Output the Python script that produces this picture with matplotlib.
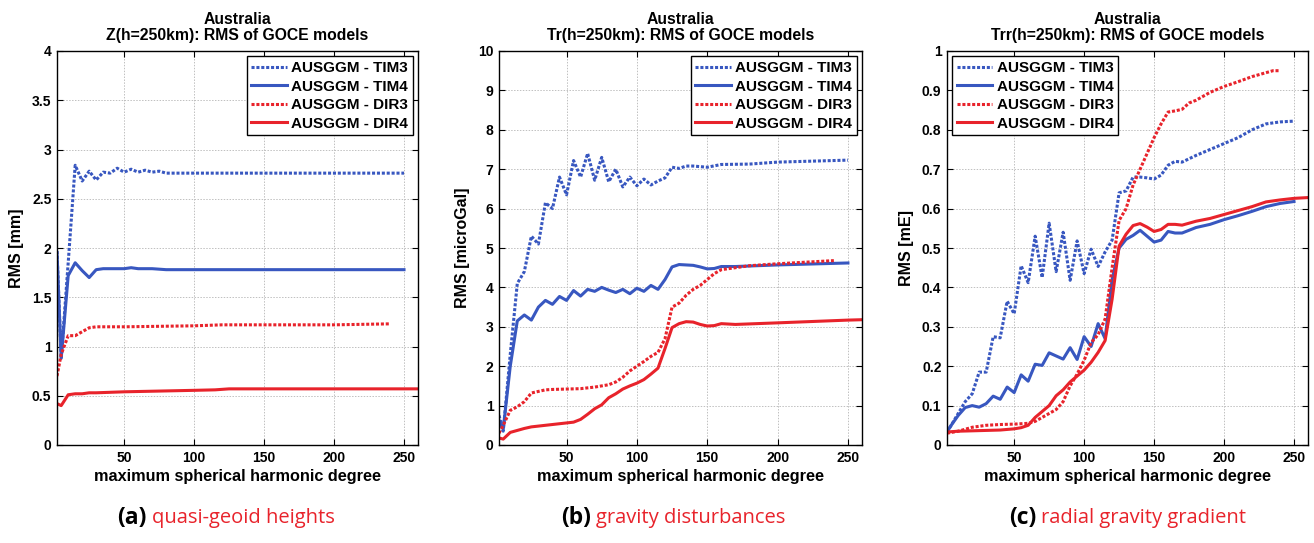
import matplotlib
matplotlib.use("Agg")
import matplotlib.pyplot as plt
from matplotlib.ticker import FixedLocator

# ---------------- data ----------------
labels = ["AUSGGM - TIM3", "AUSGGM - TIM4", "AUSGGM - DIR3", "AUSGGM - DIR4"]
xticks = [50, 100, 150, 200, 250]

# (a) quasi-geoid heights [mm]
a_tim3_x = [2, 5, 10, 15, 20, 25, 30, 35, 40, 45, 50, 55, 60, 65, 70, 75, 80, 90, 100, 150, 200, 250]
a_tim3_y = [1.97, 0.88, 1.85, 2.84, 2.68, 2.78, 2.69, 2.77, 2.76, 2.81, 2.77, 2.80, 2.77, 2.79, 2.77, 2.78, 2.76, 2.76, 2.76, 2.76, 2.76, 2.76]
a_tim4_x = [2, 5, 10, 15, 20, 25, 30, 35, 40, 50, 55, 60, 70, 80, 100, 150, 200, 250]
a_tim4_y = [1.95, 0.88, 1.72, 1.85, 1.77, 1.70, 1.78, 1.79, 1.79, 1.79, 1.80, 1.79, 1.79, 1.78, 1.78, 1.78, 1.78, 1.78]
a_dir3_x = [2, 5, 10, 15, 20, 25, 30, 40, 50, 100, 120, 150, 200, 240]
a_dir3_y = [0.70, 0.92, 1.11, 1.11, 1.15, 1.19, 1.20, 1.20, 1.20, 1.21, 1.22, 1.22, 1.22, 1.23]
a_dir4_x = [2, 5, 10, 15, 20, 25, 30, 50, 100, 115, 125, 150, 200, 260]
a_dir4_y = [0.42, 0.40, 0.51, 0.52, 0.52, 0.53, 0.53, 0.54, 0.555, 0.56, 0.57, 0.57, 0.57, 0.57]

# (b) gravity disturbances [microGal]
b_tim3_x = [2, 5, 10, 15, 20, 25, 30, 35, 40, 45, 50, 55, 60, 65, 70, 75, 80, 85, 90, 95, 100, 105, 110, 115,
            120, 125, 130, 135, 140, 150, 160, 180, 200, 250]
b_tim3_y = [0.75, 0.35, 2.3, 4.1, 4.4, 5.3, 5.1, 6.15, 6.0, 6.8, 6.35, 7.22, 6.8, 7.4, 6.72, 7.3, 6.68, 7.0, 6.55,
            6.8, 6.58, 6.75, 6.6, 6.7, 6.78, 7.05, 7.02, 7.08, 7.08, 7.05, 7.12, 7.13, 7.18, 7.23]
b_tim4_x = [2, 5, 10, 15, 20, 25, 30, 35, 40, 45, 50, 55, 60, 65, 70, 75, 80, 85, 90, 95, 100, 105, 110, 115,
            120, 125, 130, 140, 145, 150, 155, 160, 170, 200, 250]
b_tim4_y = [0.63, 0.4, 2.0, 3.15, 3.3, 3.17, 3.5, 3.67, 3.57, 3.77, 3.67, 3.92, 3.78, 3.95, 3.9, 4.0, 3.93, 3.87,
            3.95, 3.84, 3.98, 3.9, 4.05, 3.95, 4.2, 4.52, 4.58, 4.56, 4.52, 4.47, 4.48, 4.53, 4.53, 4.57, 4.62]
b_dir3_x = [2, 5, 10, 15, 20, 25, 30, 35, 40, 50, 60, 70, 80, 85, 90, 95, 100, 105, 110, 115, 120, 125, 130,
            135, 140, 145, 150, 155, 160, 170, 180, 200, 240]
b_dir3_y = [0.3, 0.5, 0.88, 0.97, 1.1, 1.32, 1.36, 1.40, 1.41, 1.42, 1.43, 1.47, 1.53, 1.6, 1.72, 1.88, 2.0,
            2.12, 2.25, 2.35, 2.7, 3.5, 3.6, 3.8, 3.95, 4.05, 4.2, 4.35, 4.45, 4.5, 4.55, 4.6, 4.68]
b_dir4_x = [2, 5, 10, 15, 20, 25, 30, 40, 45, 50, 55, 60, 65, 70, 75, 80, 85, 90, 95, 100, 105, 110, 115, 120,
            125, 130, 135, 140, 145, 150, 155, 160, 170, 200, 250, 260]
b_dir4_y = [0.18, 0.15, 0.32, 0.37, 0.42, 0.46, 0.48, 0.52, 0.54, 0.56, 0.58, 0.65, 0.78, 0.92, 1.02, 1.2, 1.3,
            1.42, 1.5, 1.57, 1.66, 1.8, 1.95, 2.45, 2.98, 3.08, 3.13, 3.12, 3.06, 3.02, 3.03, 3.08, 3.06, 3.1,
            3.17, 3.18]

# (c) radial gravity gradient [mE]
c_tim_x = [2, 5, 10, 15, 20, 25, 30, 35, 40, 45, 50, 55, 60, 65, 70, 75, 80, 85, 90, 95, 100, 105, 110, 115,
           120, 125, 130, 135, 140, 145, 150, 155, 160, 165, 170, 180, 190, 200, 210, 220, 230, 240, 250]
c_tim3_y = [0.033, 0.05, 0.08, 0.11, 0.13, 0.185, 0.185, 0.275, 0.272, 0.365, 0.333, 0.455, 0.412, 0.53, 0.425,
            0.563, 0.44, 0.54, 0.418, 0.518, 0.435, 0.497, 0.453, 0.49, 0.52, 0.64, 0.645, 0.68, 0.68, 0.678,
            0.675, 0.685, 0.71, 0.72, 0.718, 0.735, 0.75, 0.765, 0.78, 0.80, 0.815, 0.82, 0.822]
c_tim4_y = [0.033, 0.05, 0.075, 0.095, 0.1, 0.096, 0.105, 0.124, 0.116, 0.147, 0.133, 0.178, 0.162, 0.205, 0.202,
            0.234, 0.226, 0.218, 0.247, 0.217, 0.275, 0.25, 0.308, 0.27, 0.42, 0.5, 0.522, 0.532, 0.545, 0.53,
            0.515, 0.52, 0.542, 0.538, 0.538, 0.552, 0.56, 0.572, 0.582, 0.593, 0.605, 0.613, 0.618]
c_dir3_x = [2, 10, 20, 30, 40, 50, 55, 60, 65, 70, 75, 80, 85, 90, 95, 100, 105, 110, 115, 120, 125, 130, 135,
            140, 145, 150, 155, 160, 165, 170, 175, 180, 190, 200, 210, 220, 230, 235, 240]
c_dir3_y = [0.03, 0.035, 0.045, 0.05, 0.052, 0.053, 0.054, 0.055, 0.06, 0.07, 0.08, 0.09, 0.11, 0.15, 0.18,
            0.215, 0.26, 0.28, 0.32, 0.45, 0.57, 0.6, 0.66, 0.7, 0.74, 0.78, 0.815, 0.845, 0.848, 0.852, 0.868,
            0.875, 0.895, 0.91, 0.922, 0.935, 0.945, 0.95, 0.95]
c_dir4_x = [2, 10, 20, 30, 40, 50, 55, 60, 65, 70, 75, 80, 85, 90, 95, 100, 105, 110, 115, 120, 125, 130, 135,
            140, 145, 150, 155, 160, 165, 170, 180, 190, 200, 210, 220, 230, 240, 250, 260]
c_dir4_y = [0.033, 0.035, 0.036, 0.037, 0.038, 0.041, 0.044, 0.05, 0.07, 0.085, 0.1, 0.125, 0.14, 0.16, 0.175,
            0.19, 0.21, 0.235, 0.265, 0.37, 0.505, 0.535, 0.557, 0.562, 0.553, 0.542, 0.547, 0.56, 0.56, 0.558,
            0.568, 0.575, 0.585, 0.595, 0.605, 0.617, 0.622, 0.626, 0.628]

panels = [
    dict(title="Australia\nZ(h=250km): RMS of GOCE models", ylabel="RMS [mm]",
         ylim=(0, 4), yticks=[0, 0.5, 1, 1.5, 2, 2.5, 3, 3.5, 4],
         yticklabels=["0", "0.5", "1", "1.5", "2", "2.5", "3", "3.5", "4"],
         series=[(a_tim3_x, a_tim3_y), (a_tim4_x, a_tim4_y), (a_dir3_x, a_dir3_y), (a_dir4_x, a_dir4_y)],
         legloc="upper right", cap_letter="(a)", cap_text="quasi-geoid heights"),
    dict(title="Australia\nTr(h=250km): RMS of GOCE models", ylabel="RMS [microGal]",
         ylim=(0, 10), yticks=list(range(0, 11)),
         yticklabels=[str(v) for v in range(0, 11)],
         series=[(b_tim3_x, b_tim3_y), (b_tim4_x, b_tim4_y), (b_dir3_x, b_dir3_y), (b_dir4_x, b_dir4_y)],
         legloc="upper right", cap_letter="(b)", cap_text="gravity disturbances"),
    dict(title="Australia\nTrr(h=250km): RMS of GOCE models", ylabel="RMS [mE]",
         ylim=(0, 1), yticks=[0, 0.1, 0.2, 0.3, 0.4, 0.5, 0.6, 0.7, 0.8, 0.9, 1],
         yticklabels=["0", "0.1", "0.2", "0.3", "0.4", "0.5", "0.6", "0.7", "0.8", "0.9", "1"],
         series=[(c_tim_x, c_tim3_y), (c_tim_x, c_tim4_y), (c_dir3_x, c_dir3_y), (c_dir4_x, c_dir4_y)],
         legloc="upper left", cap_letter="(c)", cap_text="radial gravity gradient"),
]

# ---------------- style ----------------
BLUE = "#3857c0"
RED = "#e8232b"
styles = [dict(color=BLUE, ls=(0, (1, 0.6))), dict(color=BLUE, ls="-"),
          dict(color=RED, ls=(0, (1, 0.6))), dict(color=RED, ls="-")]
FONT = ["Liberation Sans", "DejaVu Sans"]
CAPFONT = ["Open Sans", "DejaVu Sans"]

plt.rcParams["font.family"] = FONT
plt.rcParams["font.weight"] = "bold"

W, H = 1314, 543
fig = plt.figure(figsize=(W / 100, H / 100), dpi=100)

# axes boxes in pixels: left, right, top, bottom
boxes = [(57, 418, 51, 445), (499, 862, 51, 445), (947, 1308, 51, 445)]
# caption anchor: x where "(x)" ends
cap_x = [147, 591, 1036]

for p, box, cx in zip(panels, boxes, cap_x):
    l, r, t, b = box
    ax = fig.add_axes([l / W, 1 - b / H, (r - l) / W, (b - t) / H])
    for (xs, ys), st, lab in zip(p["series"], styles, labels):
        ax.plot(xs, ys, color=st["color"], linestyle=st["ls"], lw=2.2, label=lab)
    ax.set_xlim(2, 260)
    ax.set_ylim(*p["ylim"])
    ax.xaxis.set_major_locator(FixedLocator(xticks))
    ax.set_xticklabels([str(v) for v in xticks], fontweight="bold", fontsize=10)
    ax.set_yticks(p["yticks"])
    ax.set_yticklabels(p["yticklabels"], fontweight="bold", fontsize=10)
    ax.grid(True, color="#c0c0c0", linestyle=(0, (1.5, 1.5)), lw=0.7)
    ax.tick_params(direction="in", top=True, right=True, length=4, width=0.8,
                   labelsize=10, pad=4)
    for s in ax.spines.values():
        s.set_linewidth(1.0)
        s.set_color("black")
    ax.set_title(p["title"], fontsize=11.3, fontweight="bold", pad=8, linespacing=1.1)
    ax.set_xlabel("maximum spherical harmonic degree", fontsize=11.7, fontweight="bold", labelpad=3)
    ax.set_ylabel(p["ylabel"], fontsize=11.5, fontweight="bold", labelpad=6)
    leg = ax.legend(loc=p["legloc"], prop=dict(family=FONT, weight="bold", size=11),
                    handlelength=2.3, handletextpad=0.3, borderpad=0.3, labelspacing=0.3,
                    borderaxespad=0.35, fancybox=False, framealpha=1, edgecolor="black")
    leg.get_frame().set_linewidth(1.0)
    fig.text(cx / W, 1 - 518 / H, p["cap_letter"], ha="right", va="center",
             fontsize=16.5, fontweight="bold", family=CAPFONT, color="black")
    fig.text((cx + 5) / W, 1 - 518 / H, p["cap_text"], ha="left", va="center",
             fontsize=14.5, fontweight="normal", family=CAPFONT, color=RED)

fig.savefig("out.png", dpi=100)
